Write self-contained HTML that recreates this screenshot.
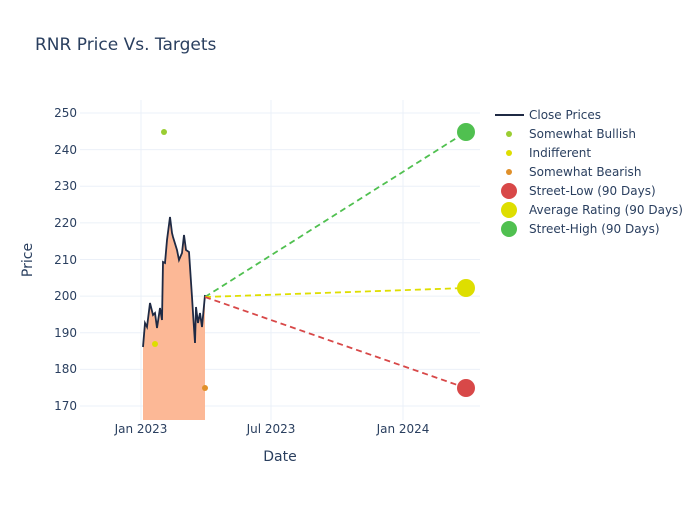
<!DOCTYPE html>
<html><head><style>body{margin:0;background:#fff}svg{font-family:"DejaVu Sans",sans-serif}</style></head><body>
<svg width="700" height="500" xmlns="http://www.w3.org/2000/svg">
<text x="35" y="50" font-size="17" fill="#2a3f5f">RNR Price Vs. Targets</text>
<g stroke="#ebf0f8" stroke-width="1">
<line x1="80" x2="480" y1="406" y2="406"/><line x1="80" x2="480" y1="369.4" y2="369.4"/><line x1="80" x2="480" y1="332.7" y2="332.7"/><line x1="80" x2="480" y1="296.1" y2="296.1"/><line x1="80" x2="480" y1="259.5" y2="259.5"/><line x1="80" x2="480" y1="222.9" y2="222.9"/><line x1="80" x2="480" y1="186.2" y2="186.2"/><line x1="80" x2="480" y1="149.6" y2="149.6"/><line x1="80" x2="480" y1="113" y2="113"/>
<line x1="141" x2="141" y1="100" y2="420"/><line x1="271" x2="271" y1="100" y2="420"/><line x1="403" x2="403" y1="100" y2="420"/>
</g>
<g font-size="12" fill="#2a3f5f" text-anchor="end">
<text x="77" y="410">170</text><text x="77" y="373">180</text><text x="77" y="337">190</text><text x="77" y="300">200</text><text x="77" y="264">210</text><text x="77" y="227">220</text><text x="77" y="190">230</text><text x="77" y="154">240</text><text x="77" y="117">250</text>
</g>
<g font-size="12" fill="#2a3f5f" text-anchor="middle">
<text x="141" y="433">Jan 2023</text><text x="271" y="433">Jul 2023</text><text x="403" y="433">Jan 2024</text>
</g>
<text x="280" y="461" font-size="14" fill="#2a3f5f" text-anchor="middle">Date</text>
<text x="32" y="260" font-size="14" fill="#2a3f5f" text-anchor="middle" transform="rotate(-90 32 260)">Price</text>
<polygon fill="#fcb896" points="143,420 143,347 145,323 147,327 150,303 153,315 155,313 157,328 160,308 162,320 163,262 165,263 167,240 170,217 172,233 173,237 177,250 179,260 182,253 184,235 186,250 189,252 192,297 193,313 195,343 196,307 198,323 200,313 202,327 205,295 205,420"/>
<polyline fill="none" stroke="#1f2a44" stroke-width="1.8" points="143,347 145,323 147,327 150,303 153,315 155,313 157,328 160,308 162,320 163,262 165,263 167,240 170,217 172,233 173,237 177,250 179,260 182,253 184,235 186,250 189,252 192,297 193,313 195,343 196,307 198,323 200,313 202,327 205,295"/>
<line x1="205" y1="297" x2="466" y2="132" stroke="#50c050" stroke-width="1.8" stroke-dasharray="6,4"/>
<line x1="205" y1="297" x2="466" y2="288" stroke="#dede00" stroke-width="1.8" stroke-dasharray="6,4"/>
<line x1="205" y1="297" x2="466" y2="388" stroke="#d84848" stroke-width="1.8" stroke-dasharray="6,4"/>
<circle cx="164" cy="132" r="3" fill="#9acd32"/>
<circle cx="155" cy="344" r="3" fill="#dede00"/>
<circle cx="205" cy="388" r="3" fill="#e0902a"/>
<circle cx="466" cy="132" r="9" fill="#50c050"/>
<circle cx="466" cy="288" r="9" fill="#dede00"/>
<circle cx="466" cy="388" r="9" fill="#d84848"/>
<g font-size="12" fill="#2a3f5f">
<line x1="495" x2="524" y1="115" y2="115" stroke="#1f2a44" stroke-width="2"/><text x="529" y="119">Close Prices</text>
<circle cx="509" cy="134" r="3" fill="#9acd32"/><text x="529" y="138">Somewhat Bullish</text>
<circle cx="509" cy="153" r="3" fill="#dede00"/><text x="529" y="157">Indifferent</text>
<circle cx="509" cy="172" r="3" fill="#e0902a"/><text x="529" y="176">Somewhat Bearish</text>
<circle cx="509" cy="191" r="8" fill="#d84848"/><text x="529" y="195">Street-Low (90 Days)</text>
<circle cx="509" cy="210" r="8" fill="#dede00"/><text x="529" y="214">Average Rating (90 Days)</text>
<circle cx="509" cy="229" r="8" fill="#50c050"/><text x="529" y="233">Street-High (90 Days)</text>
</g>
</svg>
</body></html>
